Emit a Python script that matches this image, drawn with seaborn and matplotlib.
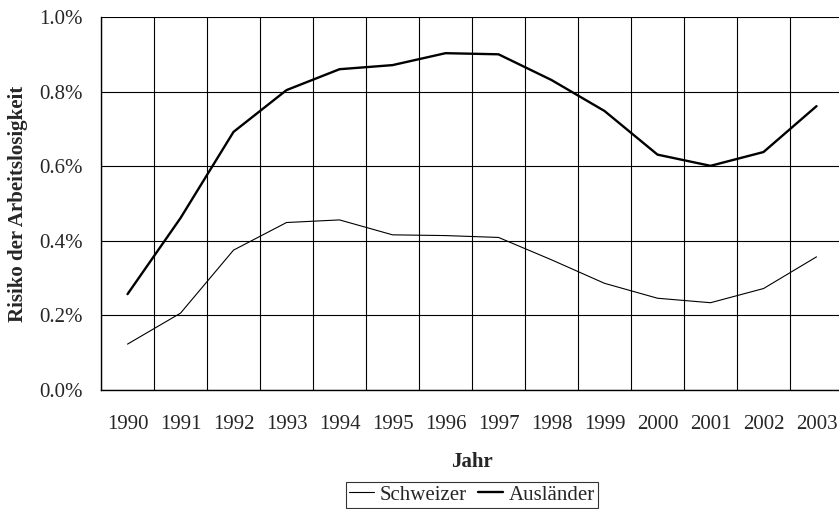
import matplotlib
matplotlib.use("Agg")
import matplotlib.pyplot as plt
import seaborn as sns
import pandas as pd
from matplotlib.ticker import FuncFormatter, MultipleLocator
from matplotlib.lines import Line2D

# data (percent)
years = list(range(1990, 2004))
schweizer = [0.123, 0.206, 0.375, 0.449, 0.456, 0.416, 0.414, 0.409, 0.349, 0.286, 0.246, 0.234, 0.272, 0.357]
auslaender = [0.257, 0.461, 0.692, 0.804, 0.860, 0.871, 0.903, 0.900, 0.831, 0.748, 0.631, 0.601, 0.638, 0.761]
series_names = ["Schweizer", "Ausländer"]

df = pd.DataFrame({
    "Jahr": years * 2,
    "Risiko": schweizer + auslaender,
    "Gruppe": [series_names[0]] * len(years) + [series_names[1]] * len(years),
})

sns.set_style("white")
plt.rcParams["font.family"] = ["Liberation Serif", "DejaVu Serif"]
fs = 15

fig = plt.figure(figsize=(8.39, 5.09), dpi=100)
ax = fig.add_axes([0.1204, 0.2338, 0.8844, 0.7328])

sns.lineplot(data=df, x="Jahr", y="Risiko", hue="Gruppe", size="Gruppe",
             sizes={"Schweizer": 0.8, "Ausländer": 1.7},
             palette={"Schweizer": "black", "Ausländer": "black"},
             legend=False, ax=ax, zorder=3)

ax.set_xlim(1989.5, 2003.5)
ax.set_ylim(0, 1.0)

# year labels at category centres, grid/ticks at category boundaries
ax.set_xticks(years)
ax.set_xticklabels([str(y) for y in years], fontsize=fs)
ax.set_xticks([y + 0.5 for y in range(1989, 2004)], minor=True)
ax.tick_params(axis="x", which="major", length=0, pad=18)
ax.tick_params(axis="x", which="minor", length=5, width=0.8, color="black", direction="out")
ax.grid(True, axis="x", which="minor", color="black", linewidth=0.8)

ax.yaxis.set_major_locator(MultipleLocator(0.2))
ax.yaxis.set_major_formatter(FuncFormatter(lambda v, p: f"{v:.1f}%"))
ax.tick_params(axis="y", which="major", length=5, width=0.8, color="black",
               direction="out", labelsize=fs, pad=8)
ax.grid(True, axis="y", which="major", color="black", linewidth=0.8)

for side in ["top", "right"]:
    ax.spines[side].set_visible(False)
for side in ["left", "bottom"]:
    ax.spines[side].set_color("black")
    ax.spines[side].set_linewidth(1.0)

ax.set_xlabel("Jahr", fontsize=fs, fontweight="bold", labelpad=13)
ax.set_ylabel("Risiko der Arbeitslosigkeit", fontsize=fs, fontweight="bold", labelpad=8)

handles = [Line2D([], [], color="black", lw=0.8), Line2D([], [], color="black", lw=1.7)]
leg = fig.legend(handles, series_names, loc="upper center",
                 bbox_to_anchor=(0.5625, 1 - 482 / 509), bbox_transform=fig.transFigure,
                 ncol=2, frameon=True, fancybox=False, fontsize=fs,
                 handlelength=1.2, handletextpad=0.3, columnspacing=0.5,
                 borderpad=0.15, borderaxespad=0)
leg.get_frame().set_edgecolor("black")
leg.get_frame().set_linewidth(0.8)

fig.savefig("out.png", dpi=100)
